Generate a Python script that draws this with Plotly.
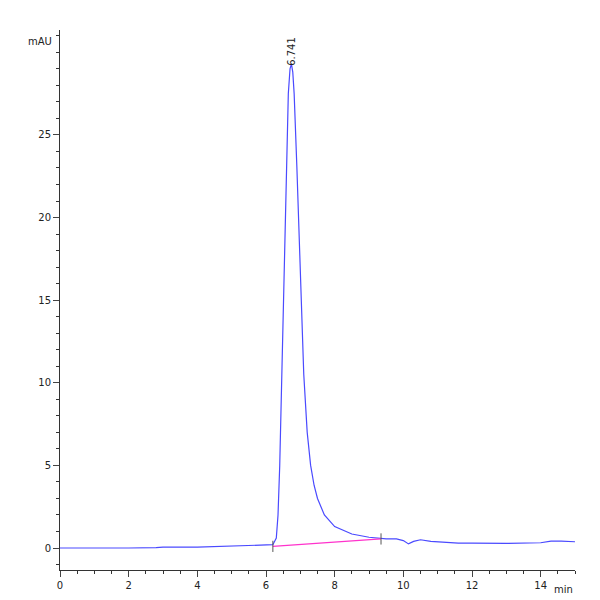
import plotly.graph_objects as go

# chromatogram trace (min, mAU)
time = [0, 1, 2, 2.8, 3, 4, 5, 5.5, 5.8, 6.0, 6.2, 6.3, 6.35, 6.4, 6.45, 6.5, 6.55, 6.6, 6.65, 6.7, 6.74,
        6.78, 6.82, 6.9, 7.0, 7.1, 7.2, 7.3, 7.4, 7.5, 7.7, 8.0, 8.5, 9.0, 9.5, 9.8, 10.0, 10.15,
        10.3, 10.5, 10.8, 11.2, 11.6, 12.0, 13.0, 14.0, 14.3, 14.6, 15.0]
signal = [0.0, -0.02, 0.0, 0.02, 0.05, 0.05, 0.1, 0.12, 0.18, 0.15, 0.2, 0.6, 2.0, 5.0, 9.5, 14.0, 19.5, 24.0, 27.5,
          29.0, 29.3, 28.8, 27.5, 23.0, 16.0, 10.5, 7.0, 5.0, 3.8, 3.0, 2.0, 1.3, 0.85, 0.65, 0.55, 0.55, 0.45, 0.25,
          0.4, 0.5, 0.4, 0.35, 0.3, 0.3, 0.28, 0.32, 0.42, 0.42, 0.38]

base_t = [6.2, 9.35]
base_y = [0.1, 0.55]
peak_t, peak_y, peak_label = 6.74, 29.3, "6.741"

fig = go.Figure()
fig.add_trace(go.Scatter(x=time, y=signal, mode="lines", line=dict(color="#4a4aff", width=1.2)))
fig.add_trace(go.Scatter(x=base_t, y=base_y, mode="lines", line=dict(color="#ff33cc", width=1.2)))
fig.add_trace(go.Scatter(x=base_t, y=base_y, mode="markers",
                         marker=dict(symbol="line-ns", size=8, line=dict(color="#555", width=1))))
fig.add_annotation(x=peak_t, y=peak_y, text=peak_label, textangle=-90, showarrow=False,
                   yanchor="bottom", yshift=-4, font=dict(family="DejaVu Sans", size=10, color="#222"))

fig.update_layout(
    width=600, height=600, showlegend=False, plot_bgcolor="white", paper_bgcolor="white",
    margin=dict(l=52, r=33, t=22, b=38, autoexpand=False),
    font=dict(family="DejaVu Sans", size=10, color="#222"),
)
fig.update_xaxes(range=[0, 15], tickvals=[0, 2, 4, 6, 8, 10, 12, 14], ticks="outside", ticklen=6,
                 showline=True, linecolor="#333", showgrid=False, zeroline=False, automargin=False,
                 minor=dict(dtick=0.5, ticks="outside", ticklen=3, tickcolor="#333"))
fig.update_yaxes(range=[-1.33, 31.35], tickvals=[0, 5, 10, 15, 20, 25], ticks="outside", ticklen=6,
                 showline=True, linecolor="#333", showgrid=False, zeroline=False, automargin=False,
                 minor=dict(dtick=1, ticks="outside", ticklen=3, tickcolor="#333"))
fig.add_annotation(x=0, y=1, xref="paper", yref="paper", text="mAU", showarrow=False,
                   xanchor="right", yanchor="top", xshift=-6, yshift=-4, font=dict(size=10))
fig.add_annotation(x=1, y=0, xref="paper", yref="paper", text="min", showarrow=False,
                   xanchor="right", yanchor="top", yshift=-12, font=dict(size=10))

fig.write_html("out.html")
